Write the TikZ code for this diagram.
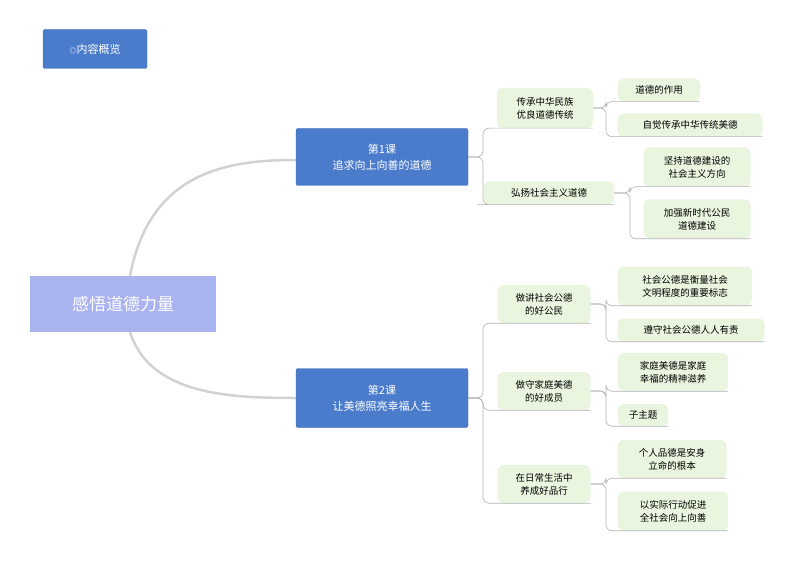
\documentclass[tikz,border=0pt]{standalone}
\usepackage{fontspec}
\setmainfont{Noto Sans CJK SC}
\begin{document}
\begin{tikzpicture}[x=1pt,y=-1pt,
  blue/.style={fill=blue0,draw=blue1,rounded corners=2pt,text=white,align=center,inner sep=0pt},
  leaf/.style={fill=green0,rounded corners=6pt,align=center,font=\fontsize{9.5}{13}\selectfont,inner sep=0pt},
  con/.style={draw=gray!60,line width=0.6pt,rounded corners=6pt},
  big/.style={draw=gray!35,line width=2.5pt}]
\definecolor{blue0}{HTML}{4A7CCB}
\definecolor{blue1}{HTML}{3F6DB8}
\definecolor{green0}{HTML}{EAF5DF}
\definecolor{lav}{HTML}{A9B3EF}
\useasboundingbox (0,0) rectangle (794,561);
\fill[white] (0,0) rectangle (794,561);
\node[blue,minimum width=104,minimum height=39,font=\fontsize{11}{13}\selectfont] (ov) at (95,49) {{\fontsize{7}{8}\selectfont◎}内容概览};
% big curves
\draw[big] (130,276) .. controls (150,170) and (230,160) .. (296,160);
\draw[big] (130,332) .. controls (150,395) and (230,398) .. (296,398);
\node[fill=lav,minimum width=186,minimum height=56,text=white,font=\fontsize{17}{20}\selectfont,inner sep=0pt] (c) at (123,304) {感悟道德力量};
\node[blue,minimum width=172,minimum height=57,font=\fontsize{11}{16}\selectfont] (l1) at (382,157) {第1课\\追求向上向善的道德};
\node[blue,minimum width=172,minimum height=59,font=\fontsize{11}{16}\selectfont] (l2) at (382,398) {第2课\\让美德照亮幸福人生};
% level 2
\node[leaf,minimum width=96,minimum height=40] (a1) at (545,108) {传承中华民族\\优良道德传统};
\node[leaf,minimum width=130,minimum height=23] (a2) at (549,193) {弘扬社会主义道德};
\node[leaf,minimum width=93,minimum height=38] (b1) at (544,304) {做讲社会公德\\的好公民};
\node[leaf,minimum width=93,minimum height=38] (b2) at (544,391) {做守家庭美德\\的好成员};
\node[leaf,minimum width=93,minimum height=38] (b3) at (544,484) {在日常生活中\\养成好品行};
% leaves
\node[leaf,minimum width=82,minimum height=23] (a11) at (659,90) {道德的作用};
\node[leaf,minimum width=145,minimum height=23] (a12) at (690,125) {自觉传承中华传统美德};
\node[leaf,minimum width=107,minimum height=39] (a21) at (697,167) {坚持道德建设的\\社会主义方向};
\node[leaf,minimum width=107,minimum height=39] (a22) at (697,219) {加强新时代公民\\道德建设};
\node[leaf,minimum width=134,minimum height=39] (b11) at (685,286) {社会公德是衡量社会\\文明程度的重要标志};
\node[leaf,minimum width=147,minimum height=23] (b12) at (691,330) {遵守社会公德人人有责};
\node[leaf,minimum width=110,minimum height=38] (b21) at (673,372) {家庭美德是家庭\\幸福的精神滋养};
\node[leaf,minimum width=50,minimum height=22] (b22) at (643,415) {子主题};
\node[leaf,minimum width=109,minimum height=38] (b31) at (672,459) {个人品德是安身\\立命的根本};
\node[leaf,minimum width=110,minimum height=39] (b32) at (673,511) {以实际行动促进\\全社会向上向善};
% connectors
\foreach \p/\c/\x in {l1/a1/483,l1/a2/483,l2/b1/483,l2/b2/483,l2/b3/483,
  a1/a11/606,a1/a12/606,a2/a21/630,a2/a22/630,b1/b11/606,b1/b12/606,
  b2/b21/606,b2/b22/606,b3/b31/606,b3/b32/606}
  \draw[con] (\p.east) -- (\x,0|-\p.east) |- (\c.south west) -- (\c.south east);
\end{tikzpicture}
\end{document}
